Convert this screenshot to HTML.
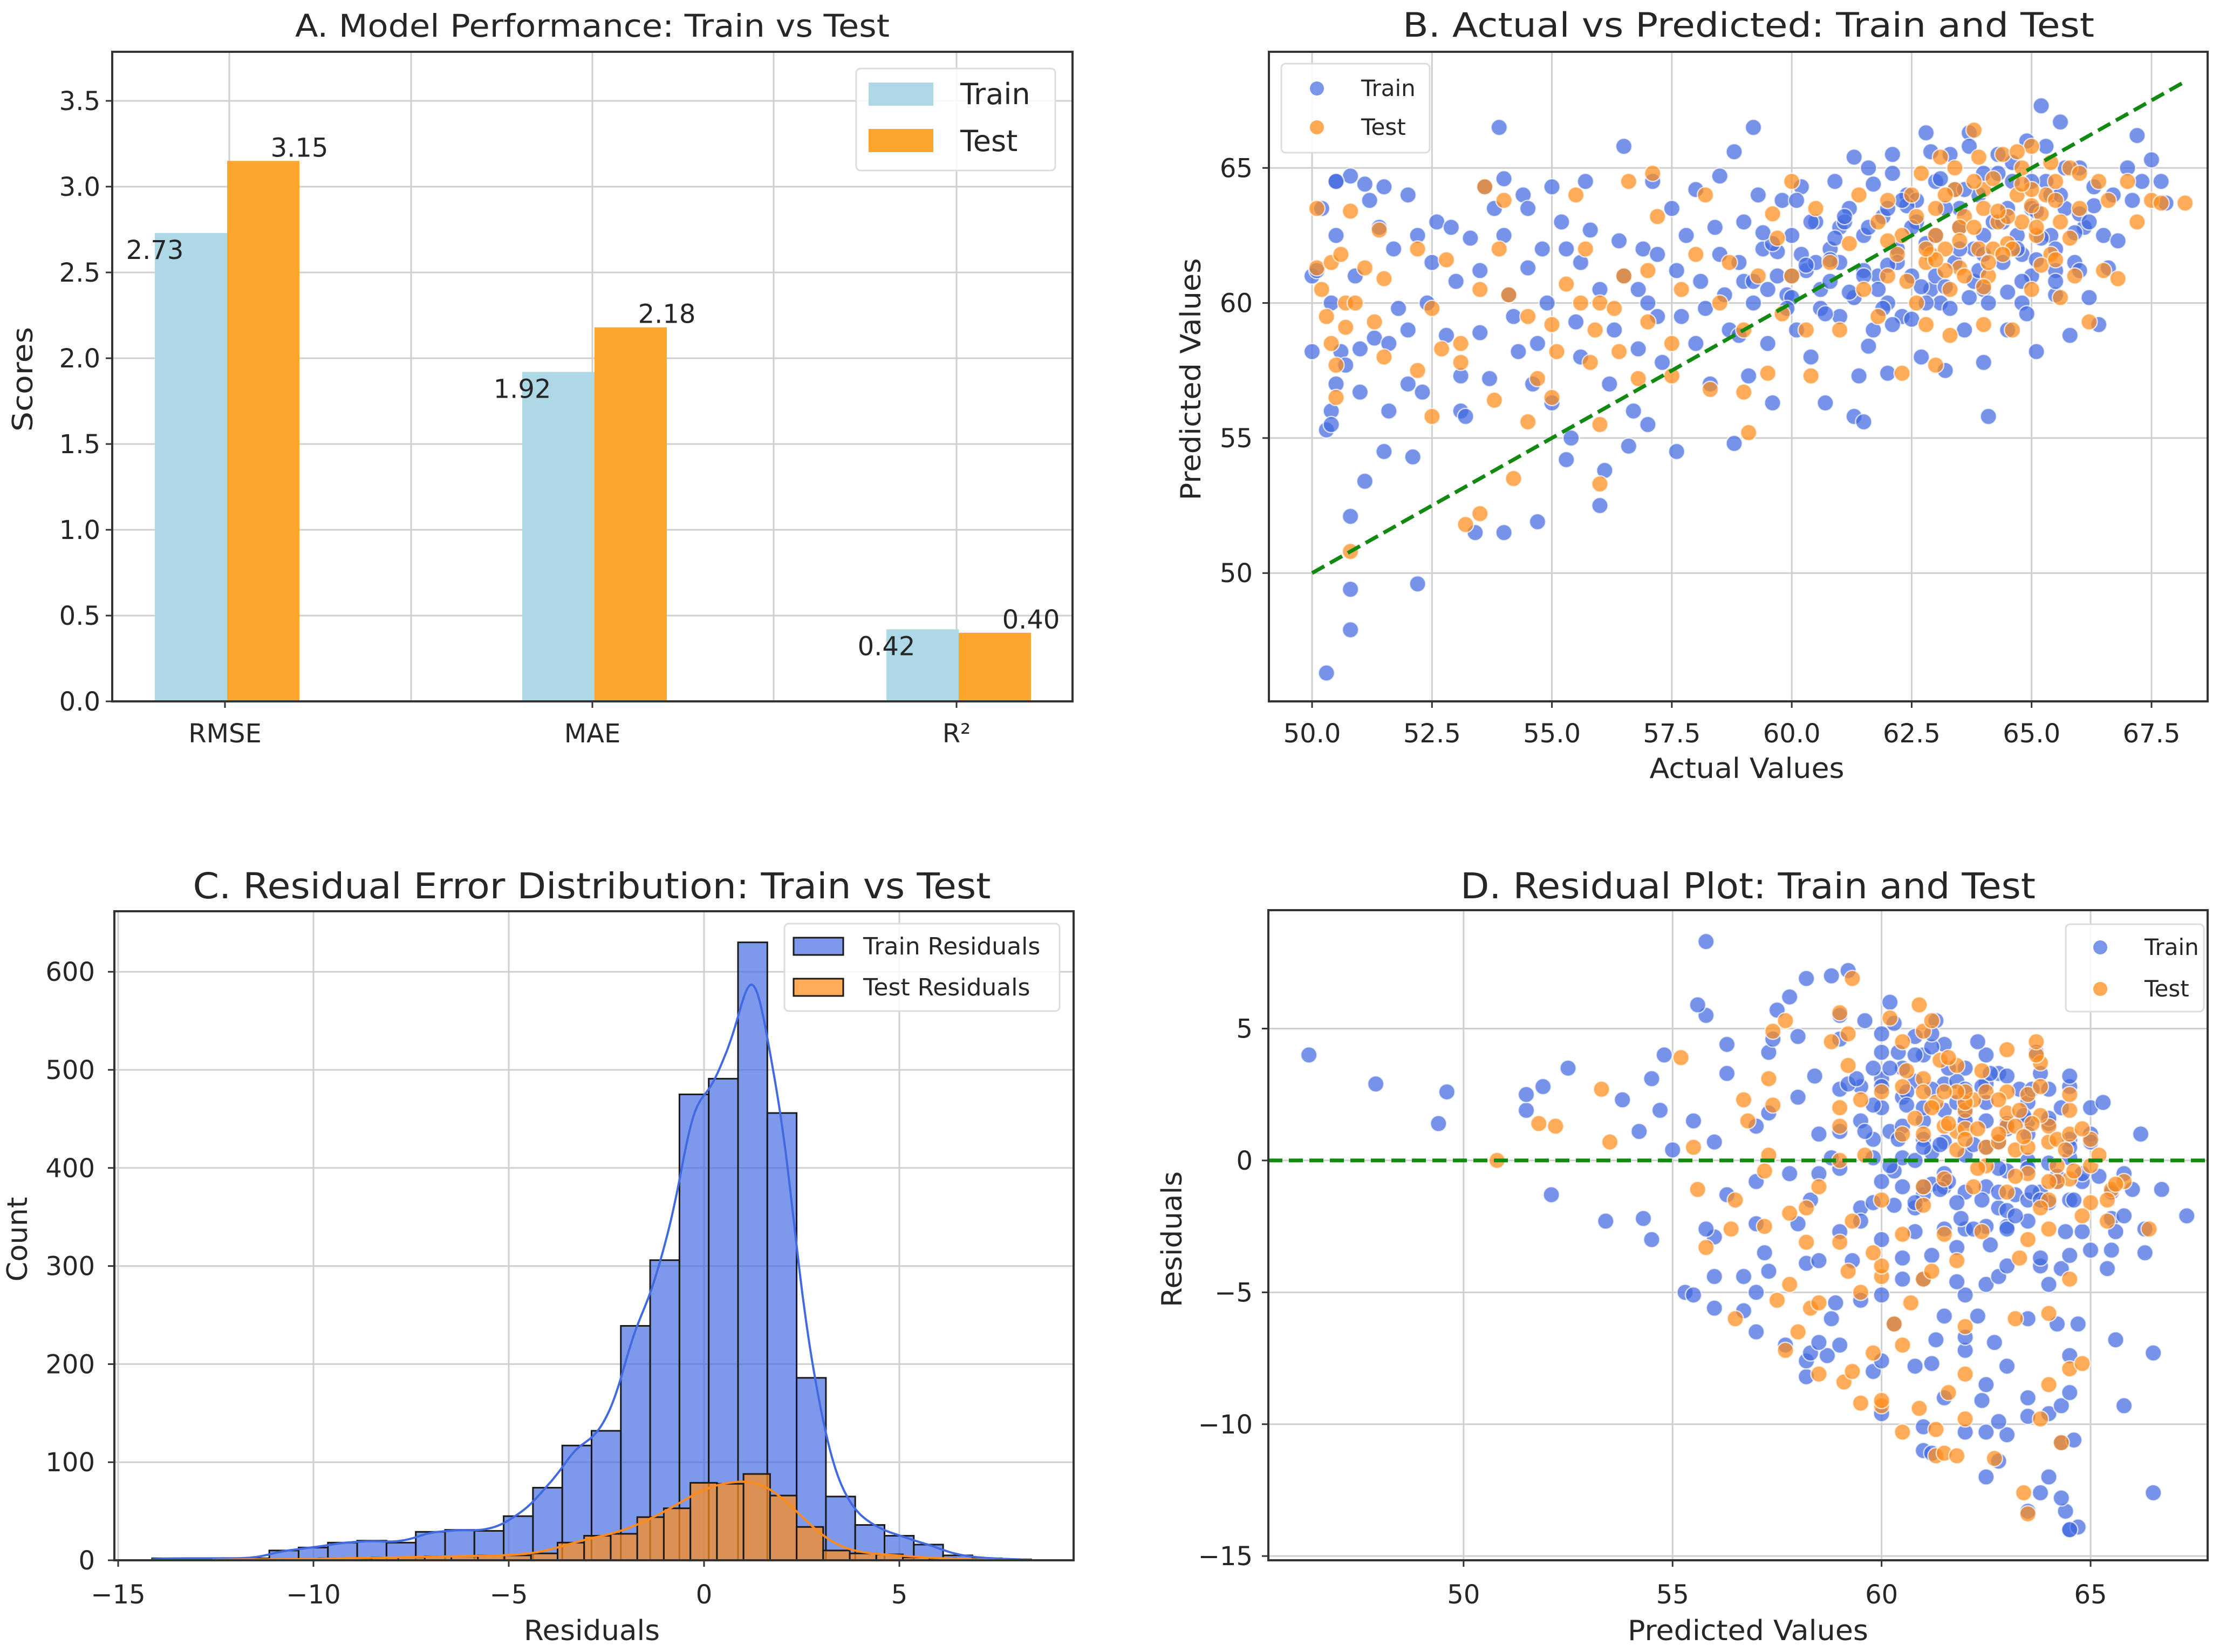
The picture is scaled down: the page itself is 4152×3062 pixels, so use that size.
<!DOCTYPE html>
<html><head><meta charset="utf-8">
<style>
html,body{margin:0;padding:0;background:#fff;}
svg{display:block;font-family:"DejaVu Sans","Liberation Sans",sans-serif;}
</style></head>
<body>
<svg id="fig" xmlns="http://www.w3.org/2000/svg" width="4152" height="3062" viewBox="0 0 4152 3062">
<rect x="0" y="0" width="4152" height="3062" fill="#fff"/>
</svg>
<script>
// ---------- Panel A data ----------
const metricNames = ["RMSE", "MAE", "R\u00b2"];
const trainScores = [2.73, 1.92, 0.42];
const testScores = [3.15, 2.18, 0.40];
const scoreTicks = [0.0, 0.5, 1.0, 1.5, 2.0, 2.5, 3.0, 3.5];

// ---------- Panel B data ----------
const trainActual = [50.0,50.0,50.1,50.2,50.3,50.3,50.4,50.4,50.4,50.5,50.5,50.5,50.6,50.7,50.8,50.8,50.8,50.8,50.9,51.0,51.0,51.1,51.1,51.3,51.4,51.5,51.5,51.6,51.6,51.7,51.8,52.0,52.0,52.1,52.2,52.2,52.3,52.4,52.5,52.6,52.8,52.9,
53.0,53.1,53.1,53.2,53.3,53.4,53.5,53.5,53.6,53.7,53.8,53.9,54.0,54.0,54.0,54.1,54.2,54.3,54.4,54.5,54.6,54.7,54.7,54.8,54.9,55.0,55.0,55.2,55.3,55.4,55.5,55.6,55.6,55.7,55.8,56.0,56.0,56.1,56.2,56.3,56.4,56.5,56.5,56.6,56.7,56.8,56.9,57.0,57.0,57.1,57.2,57.3,57.5,57.6,57.7,57.8,58.0,58.0,58.1,58.3,58.4,58.5,58.6,58.7,58.8,58.8,58.9,59.0,59.1,59.2,59.2,59.3,59.4,59.5,59.6,59.7,59.8,59.9,60.0,60.1,60.2,60.3,60.4,60.5,60.6,60.7,60.8,60.9,61.0,61.0,61.2,61.3,61.3,61.4,61.5,61.5,61.6,61.7,61.8,61.9,62.0,62.0,62.1,62.2,62.3,62.4,62.5,62.6,62.7,62.8,62.9,63.0,63.0,63.1,63.2,63.3,63.4,63.5,63.6,63.7,63.8,63.9,64.0,64.0,64.1,64.2,64.3,64.4,64.5,64.6,64.7,64.8,64.9,65.0,65.0,65.1,65.2,65.3,65.4,65.5,65.6,65.7,65.8,65.9,66.0,66.1,66.2,66.3,66.4,66.5,66.6,66.7,66.8,67.0,67.1,67.2,67.3,67.5,67.7,67.8,
61.5,62.0,62.5,63.0,63.5,64.0,64.5,65.0,65.5,64.0,63.2,62.2,60.5,61.0,60.0,59.5,58.5,65.5,66.0,64.8,63.8,62.8,61.8,60.8,
50.5,51.2,52.0,54.5,55.3,56.8,57.6,58.2,59.0,60.2,61.1,62.6,63.4,64.6,65.4,66.2,57.2,58.9,60.6,62.1,63.7,65.1,59.7,61.6,
59.2,59.6,60.0,60.4,60.8,61.2,61.6,62.0,62.4,62.8,63.2,63.6,64.0,64.4,64.8,65.2,65.6,66.0,
59.4,59.9,60.3,60.7,61.1,61.5,61.9,62.3,62.7,63.1,63.5,63.9,64.3,64.7,65.1,65.5,65.9,66.3,
60.1,60.9,61.7,62.5,63.3,64.1,64.9,65.7,61.3,62.1,62.9,63.7,64.5,65.3];
const trainPred = [61.0,58.2,61.2,63.5,46.3,55.3,56.0,55.5,60.0,64.5,62.5,57.0,58.2,57.7,64.7,52.1,49.4,47.9,61.0,58.3,56.7,64.4,53.4,58.7,62.8,64.3,54.5,58.5,56.0,62.0,59.8,59.0,57.0,54.3,49.6,62.5,56.7,60.0,61.5,63.0,58.8,62.8,
60.8,57.3,56.0,55.8,62.4,51.5,61.2,58.9,64.3,57.2,63.5,66.5,51.5,64.6,62.5,60.3,59.5,58.2,64.0,61.3,57.0,51.9,58.5,62.0,60.0,64.3,56.3,63.0,54.2,55.0,59.3,61.5,58.0,64.5,62.7,60.5,52.5,53.8,57.0,59.0,62.3,65.8,61.0,54.7,56.0,58.3,62.0,60.0,55.5,64.5,61.8,57.8,63.5,54.5,59.5,62.5,64.2,58.5,60.8,57.0,62.8,64.7,60.3,59.0,65.6,54.8,61.5,63.0,57.3,66.5,60.0,64.0,62.0,58.5,56.3,61.0,63.8,60.3,62.5,59.0,64.3,61.2,58.0,63.0,60.5,56.3,62.0,64.5,59.5,61.5,63.5,60.2,55.8,57.3,62.5,55.6,65.0,59.0,61.0,63.2,60.0,57.4,65.5,62.0,59.5,64.0,61.0,63.0,58.0,66.3,60.5,62.5,64.5,60.0,57.5,65.5,61.5,63.5,59.0,66.3,62.0,64.0,60.5,57.8,55.8,63.0,65.5,61.5,59.0,64.5,62.5,60.0,66.0,63.5,61.0,58.2,67.3,64.5,62.5,60.3,66.7,63.5,58.8,61.5,65.0,62.8,60.2,64.3,59.2,62.5,61.3,64.0,62.3,65.0,63.8,66.2,64.5,65.3,64.5,63.7,
61.2,63.5,62.8,61.0,62.0,62.5,63.5,64.5,62.0,64.8,63.5,61.5,61.5,62.8,61.0,60.5,61.8,61.2,63.3,61.8,60.8,60.0,60.5,60.8,
64.5,63.8,64.0,63.5,62.0,60.5,61.2,59.8,60.8,61.8,63.0,63.8,64.2,65.2,64.0,63.0,59.5,58.8,59.8,59.2,60.2,61.6,61.9,58.4,
60.8,62.2,60.2,63.0,61.6,60.4,62.8,61.4,63.6,62.2,60.6,64.2,61.8,63.0,60.8,62.4,64.0,61.2,
62.6,59.8,61.4,59.6,63.2,61.0,59.8,63.8,60.6,64.6,62.8,61.2,64.8,62.0,63.4,60.8,62.6,63.6,
63.8,62.4,64.4,59.4,59.8,60.0,59.6,65.0,65.4,64.8,65.6,65.8,60.4,65.8];
const testActual = [50.1,50.1,50.2,50.3,50.4,50.4,50.5,50.5,50.6,50.7,50.7,50.8,50.8,50.9,51.1,51.3,51.5,51.5,51.4,52.2,52.2,52.5,52.5,52.7,52.8,53.1,53.1,53.2,53.5,53.5,53.6,53.8,53.9,54.0,54.1,54.2,54.5,54.5,54.7,55.0,55.0,55.1,55.3,55.5,55.6,55.7,55.8,55.9,56.0,56.0,56.0,56.3,56.4,56.5,56.6,56.8,57.0,57.0,57.1,57.2,57.5,57.5,57.7,58.0,58.2,58.3,58.5,58.7,59.0,59.0,59.1,59.3,59.5,59.6,59.7,59.8,60.0,60.0,60.3,60.4,60.5,60.8,61.0,61.2,61.4,61.5,61.8,61.8,62.0,62.3,62.3,62.5,62.6,62.8,62.9,63.0,63.0,63.2,63.3,63.4,63.5,63.6,63.8,63.9,64.0,64.0,64.1,64.3,64.4,64.5,64.6,64.7,64.8,65.0,65.0,65.1,65.3,65.4,65.5,65.6,65.8,65.9,66.0,66.2,66.4,66.5,66.6,66.8,67.0,67.2,67.5,67.7,68.2,
63.0,63.5,64.0,64.5,65.0,63.2,64.2,62.8,65.5,62.0,64.8,63.8,63.3,65.2,
62.2,62.6,63.0,63.4,63.8,64.2,64.6,65.0,65.4,65.8,62.4,62.8,63.2,63.6,64.0,64.4,64.8,65.2,65.6,66.0,62.0,63.1,63.9,64.7,65.5,63.5,64.3,65.1,62.7,64.1];
const testPred = [63.5,61.3,60.5,59.5,61.5,58.5,57.7,56.5,61.8,60.0,59.1,63.4,50.8,60.0,61.3,59.3,58.0,60.9,62.7,62.0,57.5,59.8,55.8,58.3,61.6,58.5,57.8,51.8,52.2,60.5,64.3,56.4,62.0,63.8,60.3,53.5,55.6,59.5,57.2,59.2,56.5,58.2,60.7,64.0,60.0,62.0,57.8,59.0,60.0,55.5,53.3,59.8,58.2,61.0,64.5,57.2,61.2,59.3,64.8,63.2,58.5,57.3,60.5,61.8,64.0,56.8,60.0,61.5,59.0,56.7,55.2,61.0,57.4,63.3,62.4,59.6,64.5,61.0,59.0,57.3,63.5,61.5,59.0,62.2,64.0,60.5,63.0,59.5,61.0,62.5,57.4,64.0,60.0,59.2,61.8,63.5,57.7,62.0,58.8,65.0,61.3,63.2,66.4,62.0,64.2,59.2,61.0,63.0,65.5,62.2,59.0,64.0,63.0,65.8,60.5,62.5,64.0,61.8,63.8,60.2,65.0,61.0,63.5,59.3,64.5,61.2,63.8,60.9,64.5,63.0,63.8,63.7,63.7,
62.5,62.8,63.5,63.2,64.2,61.2,62.0,61.5,64.5,62.3,65.0,64.5,60.5,63.3,
61.8,63.2,61.6,64.2,62.8,64.6,62.0,63.6,65.2,62.4,60.8,62.0,64.0,61.0,60.6,61.8,64.4,61.4,63.0,64.8,63.8,65.4,65.4,65.6,61.6,62.3,63.4,62.8,64.8,61.5];

// ---------- Panel C data ----------
const trainBinStart = -14.13;
const trainBinWidth = 0.75;
const trainCounts = [2,2,2,2,10,13,18,20,18,29,31,30,45,74,117,132,239,306,475,491,630,456,186,65,36,25,16,5,2,1];
const testBinStart = -12.59;
const testBinWidth = 0.68;
const testCounts = [1,1,1,1,2,2,3,3,4,4,5,5,7,18,25,27,44,53,79,78,88,66,34,10,7,6,3,2,1,0];
const residTicks = [-15,-10,-5,0,5];
const countTicks = [0,100,200,300,400,500,600];

// ---------- Panel D ticks ----------
const predTicks = [50,55,60,65];
const residYTicks = [-15,-10,-5,0,5];
const actualTicks = [50.0,52.5,55.0,57.5,60.0,62.5,65.0,67.5];
const predYTicks = [50,55,60,65];

const NS = "http://www.w3.org/2000/svg";
const svg = document.getElementById("fig");
const MR = 15;
function mk(tag, attrs, parent) {
  const el = document.createElementNS(NS, tag);
  for (const k in attrs) el.setAttribute(k, attrs[k]);
  (parent || svg).appendChild(el);
  return el;
}
function txt(x, y, s, size, anchor, parent) {
  const el = mk("text", {x: x, y: y, "font-size": size, "text-anchor": anchor || "middle", fill: "#262626"}, parent);
  el.textContent = s;
  return el;
}
function fmt(v, d) { const s = v.toFixed(d); return s.replace("-", "\u2212"); }

function axesFrame(name) {
  const g = mk("g", {});
  
  
  return g;
}
function spine(g, L, R, T, B) {
  const r = mk("rect", {x: L, y: T, width: R - L, height: B - T, fill: "none", stroke: "#333", "stroke-width": 4}, g);
  
  
}
function gridV(g, x, T, B) {
  const l = mk("line", {x1: x, x2: x, y1: T, y2: B, stroke: "#cfcfcf", "stroke-width": 3}, g);
  
  
}
function gridH(g, y, L, R) {
  const l = mk("line", {x1: L, x2: R, y1: y, y2: y, stroke: "#cfcfcf", "stroke-width": 3}, g);
  
  
}
function xTick(g, x, B, label, baseline) {
  const l = mk("line", {x1: x, x2: x, y1: B, y2: B + 12, stroke: "#333", "stroke-width": 3}, g);
  
  
  const t = txt(x, baseline, label, 48, "middle", g);
  
  
}
function yTick(g, y, L, label, rightEdge) {
  const l = mk("line", {x1: L - 12, x2: L, y1: y, y2: y, stroke: "#333", "stroke-width": 3}, g);
  
  
  const t = txt(rightEdge, y + 17, label, 48, "end", g);
  
  
}
function title(g, cx, y, s, size, len) {
  const t = txt(cx, y, s, size, "middle", g);
  t.setAttribute("textLength", len);
  t.setAttribute("lengthAdjust", "spacingAndGlyphs");
  
  
}
function xLabel(g, cx, y, s, len) {
  const t = txt(cx, y, s, 52, "middle", g);
  t.setAttribute("textLength", len);
  t.setAttribute("lengthAdjust", "spacingAndGlyphs");
  
  
}
function yLabel(g, cx, cy, s, len) {
  const t = mk("text", {x: 0, y: 0, "font-size": 52, "text-anchor": "middle", fill: "#262626", transform: "translate(" + cx + "," + cy + ") rotate(-90)", textLength: len, lengthAdjust: "spacingAndGlyphs"}, g);
  t.textContent = s;
  
  
}

// ================= Panel A =================
(function () {
  const L = 208, R = 1988, T = 96, B = 1300, yMax = 3.786;
  const y = v => B - v / yMax * (B - T);
  const cx = [417, 1098, 1773];
  const g = axesFrame("panel-a-bar-chart");
  [425, 762, 1098, 1434, 1773].forEach(x => gridV(g, x, T, B));
  scoreTicks.forEach(v => gridH(g, y(v), L, R));
  const bw = 134;
  metricNames.forEach((m, i) => {
    const c = cx[i] + 4;
    const b1 = mk("rect", {x: c - bw, y: y(trainScores[i]), width: bw, height: B - y(trainScores[i]), fill: "#add8e6"}, g);
    
    
    const b2 = mk("rect", {x: c, y: y(testScores[i]), width: bw, height: B - y(testScores[i]), fill: "#fda52d"}, g);
    
    
    const l1 = txt(c - bw, y(trainScores[i]) + 48, trainScores[i].toFixed(2), 48, "middle", g);
    
    
    const l2 = txt(c + bw, y(testScores[i]) - 8, testScores[i].toFixed(2), 48, "middle", g);
    
    
  });
  spine(g, L, R, T, B);
  metricNames.forEach((m, i) => xTick(g, cx[i], B, m, 1376));
  scoreTicks.forEach(v => yTick(g, y(v), L, v.toFixed(1), 186));
  title(g, 1098, 68, "A. Model Performance: Train vs Test", 58, 1102);
  yLabel(g, 60, 703, "Scores", 194);
  const lg = mk("g", {}, g);
  
  
  const box = mk("rect", {x: 1587, y: 127, width: 369, height: 189, rx: 8, fill: "#fff", "fill-opacity": 0.85, stroke: "#ddd", "stroke-width": 3}, lg);
  
  
  const p1 = mk("rect", {x: 1610, y: 153, width: 120, height: 43, fill: "#add8e6"}, lg);
  
  
  const p2 = mk("rect", {x: 1610, y: 239, width: 120, height: 43, fill: "#fda52d"}, lg);
  
  
  const t1 = txt(1780, 193, "Train", 54, "start", lg);
  
  
  const t2 = txt(1780, 280, "Test", 54, "start", lg);
  
  
})();

function scatterLegend(g, bx, by, bw, bh, mx, my1, my2, tx) {
  const lg = mk("g", {}, g);
  
  
  const box = mk("rect", {x: bx, y: by, width: bw, height: bh, rx: 8, fill: "#fff", "fill-opacity": 0.85, stroke: "#ddd", "stroke-width": 3}, lg);
  
  
  const c1 = mk("circle", {cx: mx, cy: my1, r: 13, fill: "#4169e1", "fill-opacity": 0.7}, lg);
  
  
  const c2 = mk("circle", {cx: mx, cy: my2, r: 13, fill: "#ff8c1a", "fill-opacity": 0.75}, lg);
  
  
  const t1 = txt(tx, my1 + 14, "Train", 42, "start", lg);
  
  
  const t2 = txt(tx, my2 + 14, "Test", 42, "start", lg);
  
  
}
function dot(g, x, y, color, name) {
  const c = mk("circle", {cx: x, cy: y, r: MR, fill: color, "fill-opacity": 0.72, stroke: "#fff", "stroke-opacity": 0.7, "stroke-width": 2.5}, g);
  
  
}

// ================= Panel B =================
(function () {
  const L = 2352, R = 4092, T = 96, B = 1300;
  const x0 = 49.1, x1 = 68.67, y0 = 45.25, y1 = 69.3;
  const x = v => L + (v - x0) / (x1 - x0) * (R - L);
  const y = v => B - (v - y0) / (y1 - y0) * (B - T);
  const g = axesFrame("panel-b-actual-vs-predicted");
  actualTicks.forEach(v => gridV(g, x(v), T, B));
  predYTicks.forEach(v => gridH(g, y(v), L, R));
  const clip = mk("clipPath", {id: "clipB"}, g);
  mk("rect", {x: L, y: T, width: R - L, height: B - T}, clip);
  const pts = mk("g", {"clip-path": "url(#clipB)"}, g);
  
  
  trainActual.forEach((a, i) => dot(pts, x(a), y(trainPred[i]), "#4169e1", "train-point"));
  testActual.forEach((a, i) => dot(pts, x(a), y(testPred[i]), "#ff8c1a", "test-point"));
  const ln = mk("line", {x1: x(50), y1: y(50), x2: x(68.2), y2: y(68.2), stroke: "#128a12", "stroke-width": 7, "stroke-dasharray": "26,12"}, g);
  
  
  spine(g, L, R, T, B);
  actualTicks.forEach(v => xTick(g, x(v), B, v.toFixed(1), 1376));
  predYTicks.forEach(v => yTick(g, y(v), L, String(v), 2322));
  title(g, 3241, 68, "B. Actual vs Predicted: Train and Test", 62, 1282);
  xLabel(g, 3238, 1442, "Actual Values", 361);
  yLabel(g, 2225, 703, "Predicted Values", 449);
  scatterLegend(g, 2375, 118, 275, 165, 2441, 164, 236, 2523);
})();

// ================= Panel C =================
(function () {
  const L = 212, R = 1990, T = 1689, B = 2892;
  const x = v => 1305 + 72.4 * v;
  const y = c => B - c * 1.818;
  const g = axesFrame("panel-c-residual-histogram");
  residTicks.forEach(v => gridV(g, x(v), T, B));
  countTicks.forEach(v => gridH(g, y(v), L, R));
  const bars = mk("g", {}, g);
  
  
  trainCounts.forEach((c, k) => {
    const a = trainBinStart + k * trainBinWidth;
    const r = mk("rect", {x: x(a), y: y(c), width: x(a + trainBinWidth) - x(a), height: B - y(c), fill: "#4169e1", "fill-opacity": 0.68, stroke: "#1a1a1a", "stroke-width": 3}, bars);
    
    
  });
  testCounts.forEach((c, k) => {
    const a = testBinStart + k * testBinWidth;
    const r = mk("rect", {x: x(a), y: y(c), width: x(a + testBinWidth) - x(a), height: B - y(c), fill: "#ff8c1a", "fill-opacity": 0.72, stroke: "#1a1a1a", "stroke-width": 3}, bars);
    
    
  });
  function kde(counts, start, w, h, lo, hi) {
    let d = "";
    for (let v = lo; v <= hi + 1e-9; v += 0.05) {
      let s = 0;
      counts.forEach((c, k) => {
        const m = start + (k + 0.5) * w;
        const z = (v - m) / h;
        s += c * Math.exp(-0.5 * z * z) / (h * Math.sqrt(2 * Math.PI)) * w;
      });
      d += (d ? "L" : "M") + x(v).toFixed(1) + "," + y(s).toFixed(1);
    }
    return d;
  }
  const k1 = mk("path", {d: kde(trainCounts, trainBinStart, trainBinWidth, 0.42, trainBinStart, trainBinStart + 30 * trainBinWidth), fill: "none", stroke: "#4169e1", "stroke-width": 4}, g);
  
  
  const k2 = mk("path", {d: kde(testCounts, testBinStart, testBinWidth, 0.6, testBinStart, testBinStart + 30 * testBinWidth), fill: "none", stroke: "#ff8c1a", "stroke-width": 4}, g);
  
  
  spine(g, L, R, T, B);
  residTicks.forEach(v => xTick(g, x(v), B, fmt(v, 0), 2972));
  countTicks.forEach(v => yTick(g, y(v), L, String(v), 176));
  title(g, 1097, 1665, "C. Residual Error Distribution: Train vs Test", 66, 1479);
  xLabel(g, 1097, 3040, "Residuals", 252);
  yLabel(g, 50, 2297, "Count", 157);
  const lg = mk("g", {}, g);
  
  
  const box = mk("rect", {x: 1454, y: 1712, width: 510, height: 162, rx: 8, fill: "#fff", "fill-opacity": 0.85, stroke: "#ddd", "stroke-width": 3}, lg);
  
  
  const p1 = mk("rect", {x: 1471, y: 1738, width: 92, height: 32, fill: "#4169e1", "fill-opacity": 0.68, stroke: "#1a1a1a", "stroke-width": 3}, lg);
  
  
  const p2 = mk("rect", {x: 1471, y: 1814, width: 92, height: 32, fill: "#ff8c1a", "fill-opacity": 0.72, stroke: "#1a1a1a", "stroke-width": 3}, lg);
  
  
  const t1 = txt(1600, 1769, "Train Residuals", 44, "start", lg);
  
  
  const t2 = txt(1600, 1845, "Test Residuals", 44, "start", lg);
  
  
})();

// ================= Panel D =================
(function () {
  const L = 2351, R = 4092, T = 1687, B = 2892;
  const x0 = 45.33, x1 = 67.8, y0 = -15.16, y1 = 9.49;
  const x = v => L + (v - x0) / (x1 - x0) * (R - L);
  const y = v => B - (v - y0) / (y1 - y0) * (B - T);
  const g = axesFrame("panel-d-residual-plot");
  predTicks.forEach(v => gridV(g, x(v), T, B));
  residYTicks.forEach(v => gridH(g, y(v), L, R));
  const pts = mk("g", {}, g);
  
  
  trainPred.forEach((p, i) => dot(pts, x(p), y(trainActual[i] - p), "#4169e1", "train-point"));
  testPred.forEach((p, i) => dot(pts, x(p), y(testActual[i] - p), "#ff8c1a", "test-point"));
  const ln = mk("line", {x1: L, y1: y(0), x2: R, y2: y(0), stroke: "#128a12", "stroke-width": 7, "stroke-dasharray": "26,12"}, g);
  
  
  spine(g, L, R, T, B);
  predTicks.forEach(v => xTick(g, x(v), B, String(v), 2972));
  residYTicks.forEach(v => yTick(g, y(v), L, fmt(v, 0), 2322));
  title(g, 3240, 1665, "D. Residual Plot: Train and Test", 66, 1066);
  xLabel(g, 3240, 3040, "Predicted Values", 446);
  yLabel(g, 2190, 2297, "Residuals", 252);
  scatterLegend(g, 3829, 1713, 256, 162, 3893, 1756, 1833, 3975);
})();
</script>
</body></html>
